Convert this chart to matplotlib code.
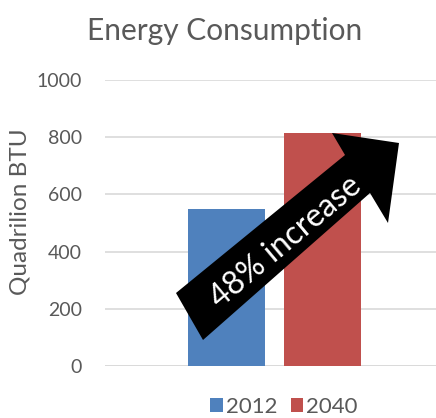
import matplotlib
matplotlib.use('Agg')
import matplotlib.pyplot as plt
from matplotlib.patches import Polygon
import numpy as np

#data
years = ['2012', '2040']
values = [549, 815]
colors = ['#4f81bd', '#c0504d']
yticks = [0, 200, 400, 600, 800, 1000]

plt.rcParams['font.family'] = ['Lato', 'DejaVu Sans']
W, H = 436, 418
fig = plt.figure(figsize=(W / 100, H / 100), dpi=100)
ax = fig.add_axes([105 / W, 1 - 366 / H, (444 - 105) / W, (366 - 80) / H])

bar_w = 0.227
offsets = [-0.1425, 0.1425]
for off, val, col, lab in zip(offsets, values, colors, years):
    ax.bar(off, val, bar_w, color=col, label=lab, zorder=2)

ax.set_xlim(-0.5, 0.5)
ax.set_ylim(0, 1000)
ax.set_yticks(yticks)
ax.set_xticks([])
ax.grid(axis='y', color='#d9d9d9', linewidth=1.2, zorder=0)
for s in ax.spines.values():
    s.set_visible(False)
ax.axhline(0, color='#d9d9d9', linewidth=1.2, zorder=1)
ax.tick_params(axis='y', length=0, pad=16.5, labelsize=14, labelcolor='#595959')
# label anchor is the right side of the rotated text
ax.set_ylabel('Quadrilion BTU', fontsize=17.5, color='#595959')
ax.yaxis.set_label_coords((30 - 105) / (444 - 105), (366 - 212) / (366 - 80))

fig.text(225 / W, 1 - 31 / H, 'Energy Consumption', ha='center', va='center',
         fontsize=21.5, color='#595959')

#arrow, image pixel coords
arrow_px = [(176, 293), (345, 155), (332, 133), (399, 143), (388, 223), (370, 193), (203, 340)]
pts = [(x / W, 1 - y / H) for x, y in arrow_px]
fig.patches.append(Polygon(pts, closed=True, facecolor='black', edgecolor='none',
                           transform=fig.transFigure, figure=fig, zorder=5))
fig.text(286 / W, 1 - 242 / H, '48% increase', ha='center', va='center', rotation=40,
         rotation_mode='anchor', fontsize=23, color='white', zorder=6)

leg = fig.legend(loc='center', bbox_to_anchor=(284 / W, 1 - 407 / H), ncol=2, frameon=False,
                 fontsize=16, handlelength=0.55, handleheight=0.55, handletextpad=0.15,
                 columnspacing=0.6, labelcolor='#595959')

fig.savefig('out.png', dpi=100)
